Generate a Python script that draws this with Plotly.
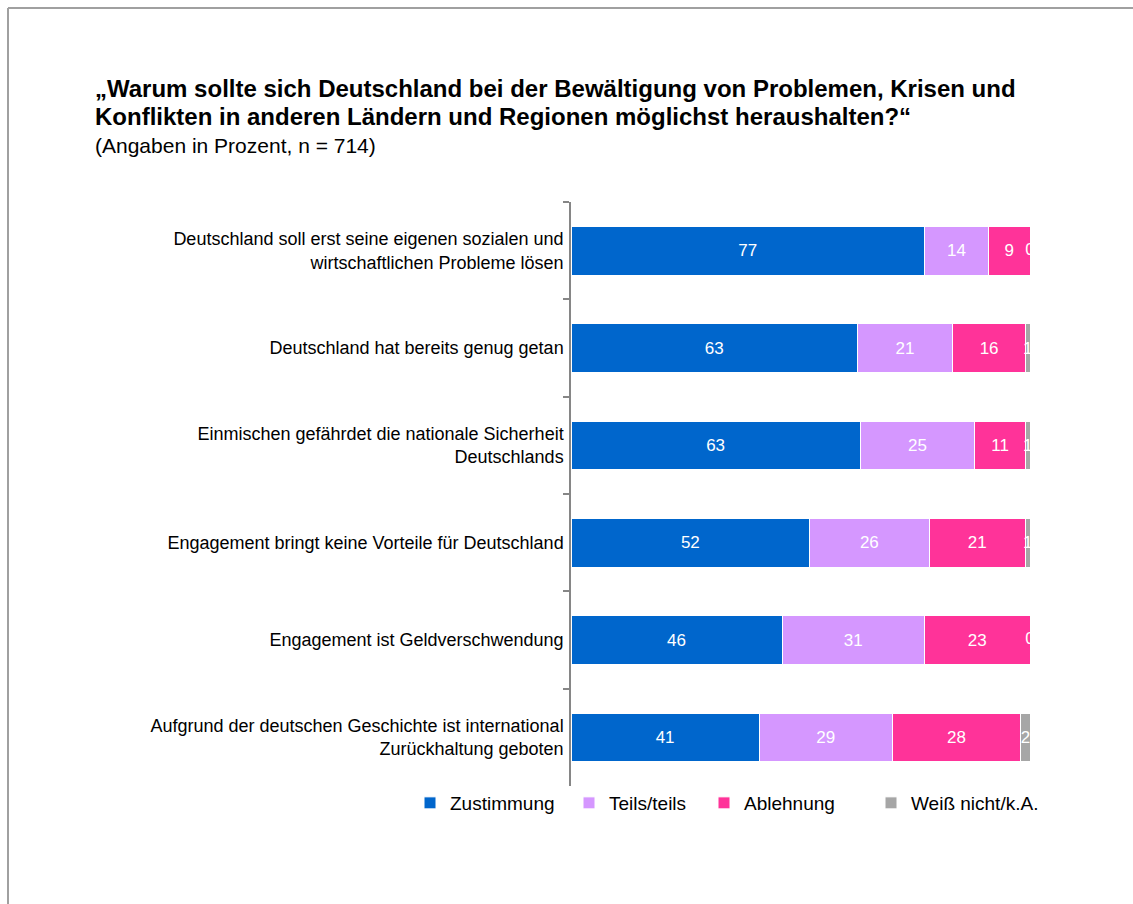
import plotly.graph_objects as go

# Survey statements (top to bottom) and answer shares in percent
statements = [
    "Deutschland soll erst seine eigenen sozialen und<br>wirtschaftlichen Probleme lösen",
    "Deutschland hat bereits genug getan",
    "Einmischen gefährdet die nationale Sicherheit<br>Deutschlands",
    "Engagement bringt keine Vorteile für Deutschland",
    "Engagement ist Geldverschwendung",
    "Aufgrund der deutschen Geschichte ist international<br>Zurückhaltung geboten",
]
zustimmung = [77, 63, 63, 52, 46, 41]
teils_teils = [14, 21, 25, 26, 31, 29]
ablehnung = [9, 16, 11, 21, 23, 28]
weiss_nicht = [0, 1, 1, 1, 0, 2]

series_names = ["Zustimmung", "Teils/teils", "Ablehnung", "Weiß nicht/k.A."]
series_values = [zustimmung, teils_teils, ablehnung, weiss_nicht]
series_colors = ["#0066CC", "#D597FF", "#FF3399", "#A6A6A6"]

title_lines = [
    "„Warum sollte sich Deutschland bei der Bewältigung von Problemen, Krisen und",
    "Konflikten in anderen Ländern und Regionen möglichst heraushalten?“",
]
subtitle = "(Angaben in Prozent, n = 714)"

FONT = "Arial, 'Liberation Sans', sans-serif"

# Figure geometry (pixels)
W, H = 1133, 904
L, R, T, B = 571, 103, 202, 118
plot_w = W - L - R
plot_h = H - T - B


def paper_x(px):
    return (px - L) / plot_w


def paper_y(py):
    return 1 - (py - T) / plot_h


fig = go.Figure()

legend_ids = ["legend", "legend2", "legend3", "legend4"]
for name, vals, color, lg in zip(series_names, series_values, series_colors, legend_ids):
    fig.add_trace(go.Bar(
        name=name,
        y=statements,
        x=vals,
        orientation="h",
        marker=dict(color=color, line=dict(color="white", width=1)),
        text=[str(v) for v in vals],
        texttemplate="%{text}",
        textposition="inside",
        insidetextanchor="middle",
        constraintext="none",
        textfont=dict(family=FONT, size=17, color="white"),
        legend=lg,
        hoverinfo="skip",
    ))

# Zero-width segments still carry their "0" label at the end of the bar
zero_rows = [s for s, v in zip(statements, weiss_nicht) if v == 0]
fig.add_trace(go.Scatter(
    x=[100] * len(zero_rows),
    y=zero_rows,
    mode="text",
    text=["0"] * len(zero_rows),
    textposition="middle center",
    textfont=dict(family=FONT, size=17, color="white"),
    showlegend=False,
    hoverinfo="skip",
    cliponaxis=True,
))

# Title (two bold lines) and subtitle
for line, cy in zip(title_lines, [88, 117]):
    fig.add_annotation(
        xref="paper", yref="paper",
        x=paper_x(93), y=paper_y(cy),
        xanchor="left", yanchor="middle", align="left",
        text=f"<b>{line}</b>",
        showarrow=False,
        font=dict(family=FONT, size=24, color="black"),
    )
fig.add_annotation(
    xref="paper", yref="paper",
    x=paper_x(93), y=paper_y(145),
    xanchor="left", yanchor="middle", align="left",
    text=subtitle,
    showarrow=False,
    font=dict(family=FONT, size=21, color="black"),
)

# Thin frame along the top and left edge
frame = dict(color="#A0A0A0", width=2)
fig.add_shape(type="line", xref="paper", yref="paper",
              x0=paper_x(8), x1=paper_x(W + 5), y0=paper_y(8), y1=paper_y(8), line=frame)
fig.add_shape(type="line", xref="paper", yref="paper",
              x0=paper_x(8), x1=paper_x(8), y0=paper_y(8), y1=paper_y(H + 5), line=frame)

# One legend box per series, spaced like the original
legend_text_x = [452, 611, 746, 913]
legend_font = dict(family=FONT, size=19, color="black")
layout_legends = {}
for lg, tx in zip(legend_ids, legend_text_x):
    layout_legends[lg] = dict(
        x=(tx - 42) / W, xref="container", xanchor="left",
        y=1 - 803 / H, yref="container", yanchor="middle",
        orientation="h", font=legend_font, bgcolor="rgba(0,0,0,0)",
        itemwidth=30, itemclick=False, itemdoubleclick=False,
    )

fig.update_layout(
    width=W, height=H,
    margin=dict(l=L, r=R, t=T, b=B, pad=0, autoexpand=False),
    paper_bgcolor="white", plot_bgcolor="white",
    barmode="stack", barnorm="percent", bargap=0.5,
    showlegend=True,
    font=dict(family=FONT, color="black"),
    **layout_legends,
)

fig.update_xaxes(range=[0, 100], visible=False, fixedrange=True)
fig.update_yaxes(
    autorange="reversed",
    showline=True, linecolor="#868686", linewidth=1.5,
    ticks="outside", ticklen=6, tickcolor="#868686", tickwidth=1.5,
    tickson="boundaries",
    showgrid=False, zeroline=False,
    tickfont=dict(family=FONT, size=18, color="black"),
    ticklabelstandoff=2,
    fixedrange=True,
)

fig.write_html("out.html")
